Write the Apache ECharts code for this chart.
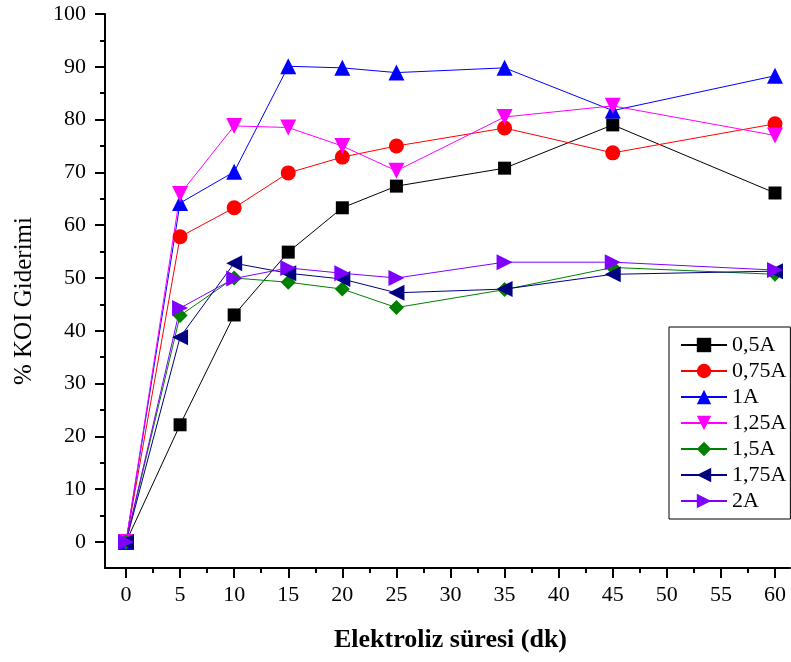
<!DOCTYPE html>
<html>
<head>
<meta charset="utf-8">
<script src="https://cdn.jsdelivr.net/npm/echarts@6/dist/echarts.min.js"></script>
<style>html,body{margin:0;padding:0;background:#fff}#c{width:791px;height:662px}</style>
</head>
<body>
<div id="c"></div>
<script>
const times = [0, 5, 10, 15, 20, 25, 35, 45, 60];
const seriesNames = ['0,5A', '0,75A', '1A', '1,25A', '1,5A', '1,75A', '2A'];
const s05 = [0, 22.2, 43.0, 54.9, 63.3, 67.4, 70.8, 79.0, 66.1];
const s075 = [0, 57.8, 63.3, 69.9, 72.9, 75.0, 78.4, 73.7, 79.2];
const s1 = [0, 64.2, 70.1, 90.1, 89.8, 88.9, 89.8, 81.7, 88.3];
const s125 = [0, 65.9, 78.8, 78.5, 75.0, 70.3, 80.5, 82.6, 77.0];
const s15 = [0, 42.9, 50.0, 49.2, 47.9, 44.4, 47.8, 52.0, 50.7];
const s175 = [0, 38.8, 52.8, 50.9, 49.8, 47.2, 47.9, 50.7, 51.3];
const s2 = [0, 44.3, 49.9, 51.9, 50.9, 50.0, 53.0, 53.0, 51.5];
const xTicks = ['0','5','10','15','20','25','30','35','40','45','50','55','60'];

const allValues = [s05, s075, s1, s125, s15, s175, s2];
const colors = ['#000000', '#ff0000', '#0000ff', '#ff00ff', '#008000', '#000080', '#8000ff'];
const symbols = ['rect', 'circle', 'triangle', 'triangle', 'diamond', 'triangle', 'triangle'];
const rotates = [0, 0, 0, 180, 0, 90, -90];
const sizes = [13, 15, 16, 16, 15, 16, 16];

const font = 'Liberation Serif, Times New Roman, serif';
const chart = echarts.init(document.getElementById('c'), null, {renderer: 'canvas'});

const series = allValues.map((vals, i) => ({
  name: seriesNames[i],
  type: 'line',
  xAxisIndex: 0,
  yAxisIndex: 0,
  data: times.map((t, j) => [t, vals[j]]),
  symbol: symbols[i],
  symbolSize: sizes[i],
  symbolRotate: rotates[i],
  itemStyle: {color: colors[i]},
  lineStyle: {color: colors[i], width: 1},
  animation: false,
  clip: false
}));

chart.setOption({
  animation: false,
  backgroundColor: '#fff',
  grid: [
    {left: 126, right: 16, top: 14, bottom: 120, containLabel: false},
    {left: 105, right: 1, top: 14, bottom: 94, containLabel: false}
  ],
  legend: {
    orient: 'vertical',
    left: 669,
    top: 327,
    data: seriesNames,
    itemWidth: 46,
    itemHeight: 18,
    itemGap: 4,
    itemTextGap: 5,
    padding: [7, 4, 7, 11],
    borderColor: '#000',
    borderWidth: 1,
    textStyle: {fontFamily: font, fontSize: 22, lineHeight: 22, color: '#000'}
  },
  xAxis: [
    {
      gridIndex: 0, type: 'value', min: 0, max: 60, interval: 5,
      offset: 26,
      axisLine: {show: false, onZero: false},
      axisTick: {show: true, inside: false, length: 10, lineStyle: {color: '#000', width: 2}},
      minorTick: {show: true, splitNumber: 2, length: 5, lineStyle: {color: '#000', width: 2}},
      splitLine: {show: false},
      axisLabel: {margin: 16, fontFamily: font, fontSize: 22, color: '#000',
        formatter: v => xTicks[Math.round(v / 5)]},
      name: 'Elektroliz süresi (dk)',
      nameLocation: 'middle',
      nameGap: 59,
      nameTextStyle: {fontFamily: font, fontSize: 26, fontWeight: 'bold', color: '#000'}
    },
    {
      gridIndex: 1, type: 'value', min: -2, max: 61.5,
      axisLine: {show: true, onZero: false, lineStyle: {color: '#000', width: 2}},
      axisTick: {show: false}, axisLabel: {show: false}, splitLine: {show: false}
    }
  ],
  yAxis: [
    {
      gridIndex: 0, type: 'value', min: 0, max: 100, interval: 10,
      offset: 21,
      axisLine: {show: false, onZero: false},
      axisTick: {show: true, inside: false, length: 10, lineStyle: {color: '#000', width: 2}},
      minorTick: {show: true, splitNumber: 2, length: 5, lineStyle: {color: '#000', width: 2}},
      splitLine: {show: false},
      axisLabel: {margin: 19, fontFamily: font, fontSize: 22, color: '#000'},
      name: '% KOI Giderimi',
      nameLocation: 'middle',
      nameGap: 68,
      nameMoveOverlap: false,
      nameTextStyle: {fontFamily: font, fontSize: 25, color: '#000', padding: [0, 46, 0, 0]}
    },
    {
      gridIndex: 1, type: 'value', min: -5, max: 100,
      axisLine: {show: true, onZero: false, lineStyle: {color: '#000', width: 2}},
      axisTick: {show: false}, axisLabel: {show: false}, splitLine: {show: false}
    }
  ],
  series: series
});
</script>
</body>
</html>
